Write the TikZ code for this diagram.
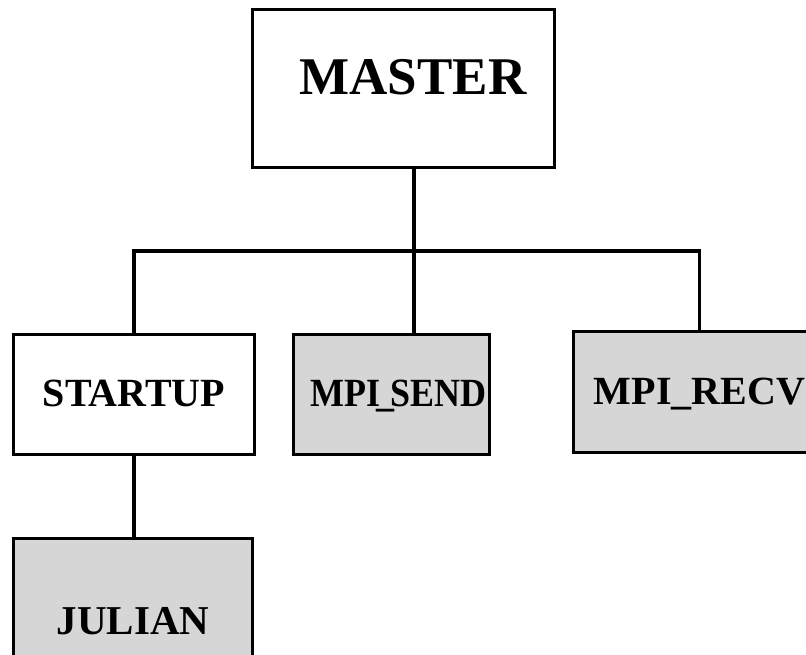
\documentclass[tikz,border=0pt]{standalone}
\usepackage{fontspec}
\usepackage{graphicx}
\setmainfont{Liberation Serif}
\begin{document}
\begin{tikzpicture}[x=1pt,y=1pt,
  box/.style={draw=black, line width=3pt, rectangle, inner sep=0pt,
    anchor=north west, font=\fontsize{40}{40}\selectfont\bfseries,
    minimum width=241pt, text height=72pt, text depth=48pt},
  shaded/.style={box, fill=black!16},
  wire/.style={line width=3.4pt, line cap=rect}]
  \clip (0,0) rectangle (806,-655);
  \fill[white] (0,0) rectangle (806,-655);

  % top-level module
  \node[box, minimum width=302pt, text height=85pt, text depth=73pt,
        font=\fontsize{53}{53}\selectfont\bfseries]
        (master) at (251,-8) {\hspace*{19pt}MASTER};

  % called routines
  \node[box] (startup) at (12,-333) {STARTUP};
  \node[shaded, minimum width=196pt]
        (send) at (292,-333)
        {\hspace*{14pt}\scalebox{0.9}[1]{MPI\kern-4pt\_\kern-4pt SEND}};
  \node[shaded, minimum width=252pt, text height=73pt, text depth=48pt]
        (recv) at (572,-330) {MPI\_RECV};
  \node[shaded, minimum width=239pt, text height=96pt, text depth=40pt,
        font=\fontsize{41}{41}\selectfont\bfseries]
        (julian) at (12,-537) {JULIAN};

  % tree connectors
  \coordinate (bar) at (0,-251);
  \coordinate (trunk) at (414,-251);
  \draw[wire] (trunk |- master.south) -- (trunk |- send.north);
  \draw[wire] (startup.north) -- (startup.north |- bar) -- (recv.north |- bar) -- (recv.north);
  \draw[wire] (startup.south) -- (startup.south |- julian.north);
\end{tikzpicture}
\end{document}
